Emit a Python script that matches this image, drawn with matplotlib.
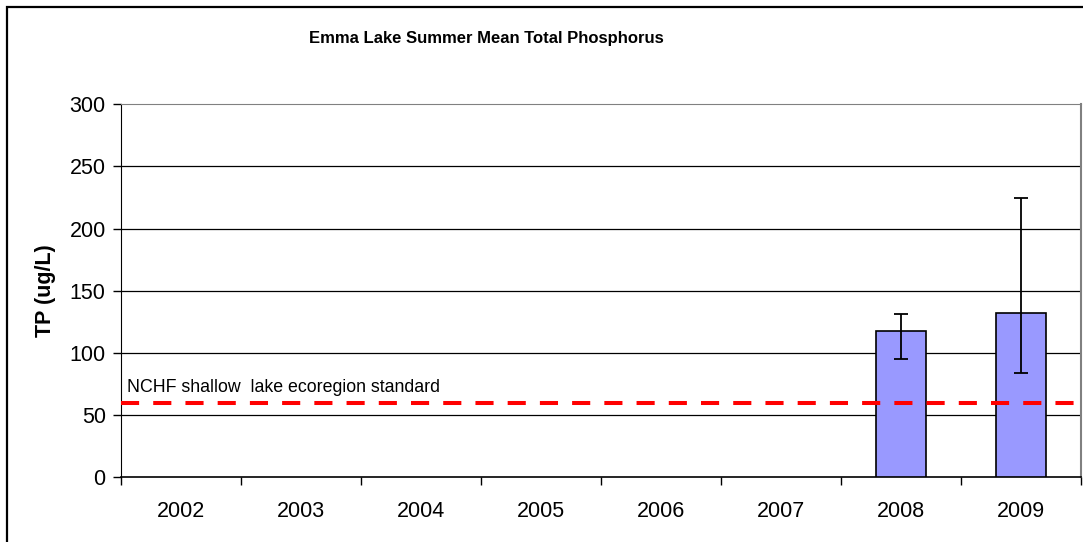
import numpy as np
import matplotlib
matplotlib.use('Agg')
import matplotlib.pyplot as plt
from matplotlib.patches import Rectangle

plt.rcParams['font.family'] = ['Liberation Sans', 'DejaVu Sans']

# data
years = ['2002', '2003', '2004', '2005', '2006', '2007', '2008', '2009']
tp_mean = [np.nan, np.nan, np.nan, np.nan, np.nan, np.nan, 117.5, 132.5]
err_low = [0, 0, 0, 0, 0, 0, 22, 49]
err_high = [0, 0, 0, 0, 0, 0, 13.5, 92]
standard = 59.5
standard_label = 'NCHF shallow  lake ecoregion standard'

W, H = 1083, 542
fig = plt.figure(figsize=(W / 100, H / 100), dpi=100)
ax = fig.add_axes([121 / W, 1 - 477.3 / H, 960 / W, 373 / H])

x = np.arange(len(years))
ax.bar(x, tp_mean, width=0.41, color='#9999FF', edgecolor='black', linewidth=1.2, zorder=3)
ax.errorbar(x, tp_mean, yerr=[err_low, err_high], fmt='none', ecolor='black',
            elinewidth=1.3, capsize=5, capthick=1.3, zorder=4)

ax.axhline(standard, color='#FF0000', linewidth=2.9, dashes=(4.5, 3.5), zorder=5)
ax.text(-0.45, 68.6, standard_label, fontsize=12.8, ha='left', va='baseline', zorder=6)

ax.set_xlim(-0.5, len(years) - 0.5)
ax.set_ylim(0, 300)
ax.set_yticks(np.arange(0, 301, 50))
ax.tick_params(axis='y', direction='out', length=6, width=1, labelsize=15.5, pad=5)

# category labels centered, tick marks on boundaries
ax.set_xticks(x)
ax.set_xticklabels(years, fontsize=15.5)
ax.tick_params(axis='x', which='major', length=0, pad=17)
ax.set_xticks(np.arange(-0.5, len(years)), minor=True)
ax.tick_params(axis='x', which='minor', direction='out', length=6, width=1)

for y in range(50, 300, 50):
    ax.axhline(y, color='black', linewidth=0.9, zorder=1)

ax.spines['left'].set_color('black')
ax.spines['bottom'].set_color('black')
ax.spines['bottom'].set_linewidth(1.2)
ax.spines['top'].set_color('#808080')
ax.spines['right'].set_color('#808080')
ax.spines['right'].set_linewidth(1.5)

ax.set_ylabel('TP (ug/L)', fontsize=15.5, fontweight='bold', labelpad=10)
fig.text(486 / W, 1 - 39 / H, 'Emma Lake Summer Mean Total Phosphorus',
         fontsize=12, fontweight='bold', ha='center', va='center')

# outer chart frame
fig.add_artist(Rectangle((7 / W, -0.1), 1.2, 1 - 7 / H + 0.1, transform=fig.transFigure,
                         fill=False, edgecolor='black', linewidth=1.6))

fig.savefig('out.png', dpi=100)
